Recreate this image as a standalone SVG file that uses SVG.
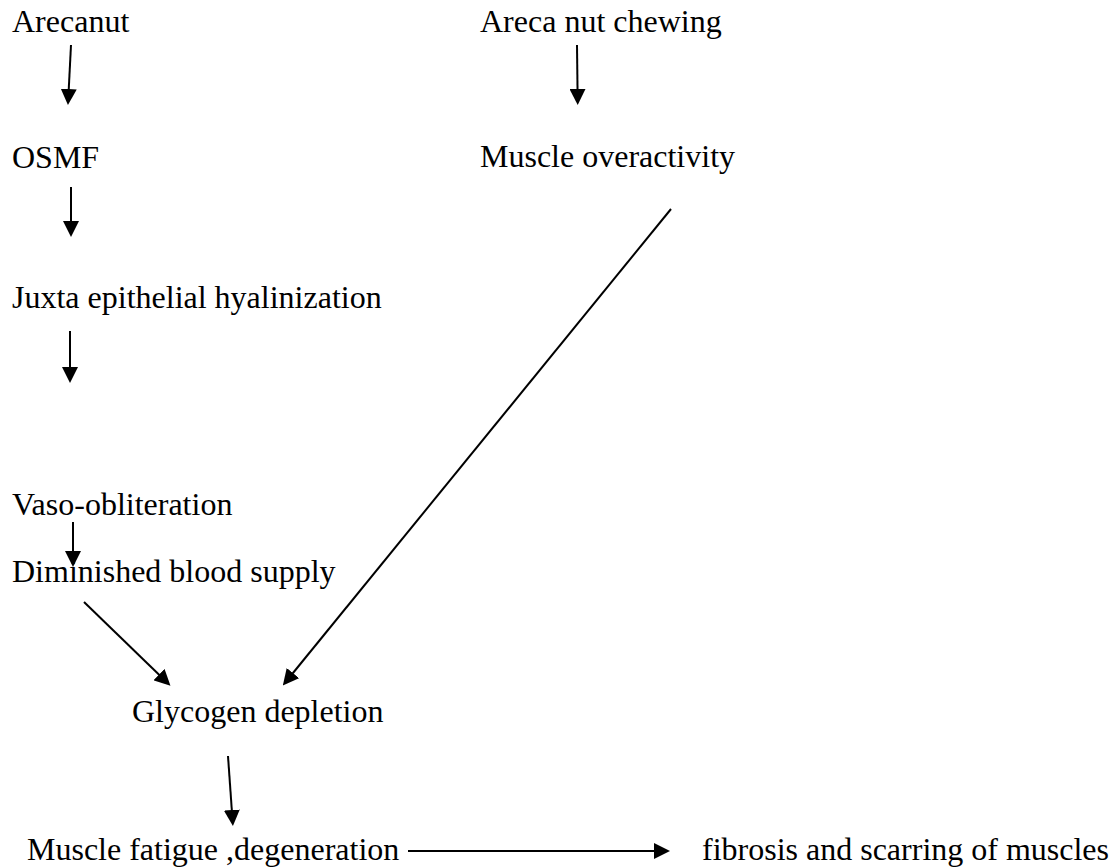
<svg xmlns="http://www.w3.org/2000/svg" width="1112" height="867" viewBox="0 0 1112 867">
<style>
.t{font-family:'Liberation Serif','Times New Roman','DejaVu Serif',serif;font-size:32px;fill:#000}
.c line{stroke:#000;stroke-width:2;fill:none;marker-end:url(#ah)}
</style>
<defs>
<marker id="ah" markerUnits="userSpaceOnUse" markerWidth="16" markerHeight="16" refX="7" refY="8" orient="auto">
<path d="M0,0 L16,8 L0,16 z" fill="#000"/>
</marker>
</defs>
<rect width="1112" height="867" fill="#fff"/>
<g class="t" font-family="Liberation Serif, Times New Roman, serif">
<g id="n-arecanut"><text x="12" y="32">Arecanut</text></g>
<g id="n-chewing"><text x="480" y="32">Areca nut chewing</text></g>
<g id="n-osmf"><text x="12" y="168">OSMF</text></g>
<g id="n-overactivity"><text x="480" y="167">Muscle overactivity</text></g>
<g id="n-juxta"><text x="12" y="308">Juxta epithelial hyalinization</text></g>
<g id="n-vaso"><text x="12" y="515">Vaso-obliteration</text></g>
<g id="n-diminished"><text x="12" y="582">Diminished blood supply</text></g>
<g id="n-glycogen"><text x="132" y="722">Glycogen depletion</text></g>
<g id="n-fatigue"><text x="27" y="860">Muscle fatigue ,degeneration</text></g>
<g id="n-fibrosis"><text x="702" y="860">fibrosis and scarring of muscles</text></g>
</g>
<g id="connectors" class="c">
<line x1="71" y1="45" x2="68.4" y2="96"/>
<line x1="577" y1="45" x2="577.6" y2="96"/>
<line x1="71" y1="187" x2="71" y2="228"/>
<line x1="70" y1="331" x2="70" y2="374"/>
<line x1="73" y1="522" x2="73" y2="558"/>
<line x1="84" y1="602" x2="164" y2="679.5"/>
<line x1="671" y1="209" x2="288.5" y2="678.5"/>
<line x1="228" y1="756" x2="232.3" y2="817"/>
<line x1="408" y1="851" x2="661" y2="851"/>
</g>
</svg>
